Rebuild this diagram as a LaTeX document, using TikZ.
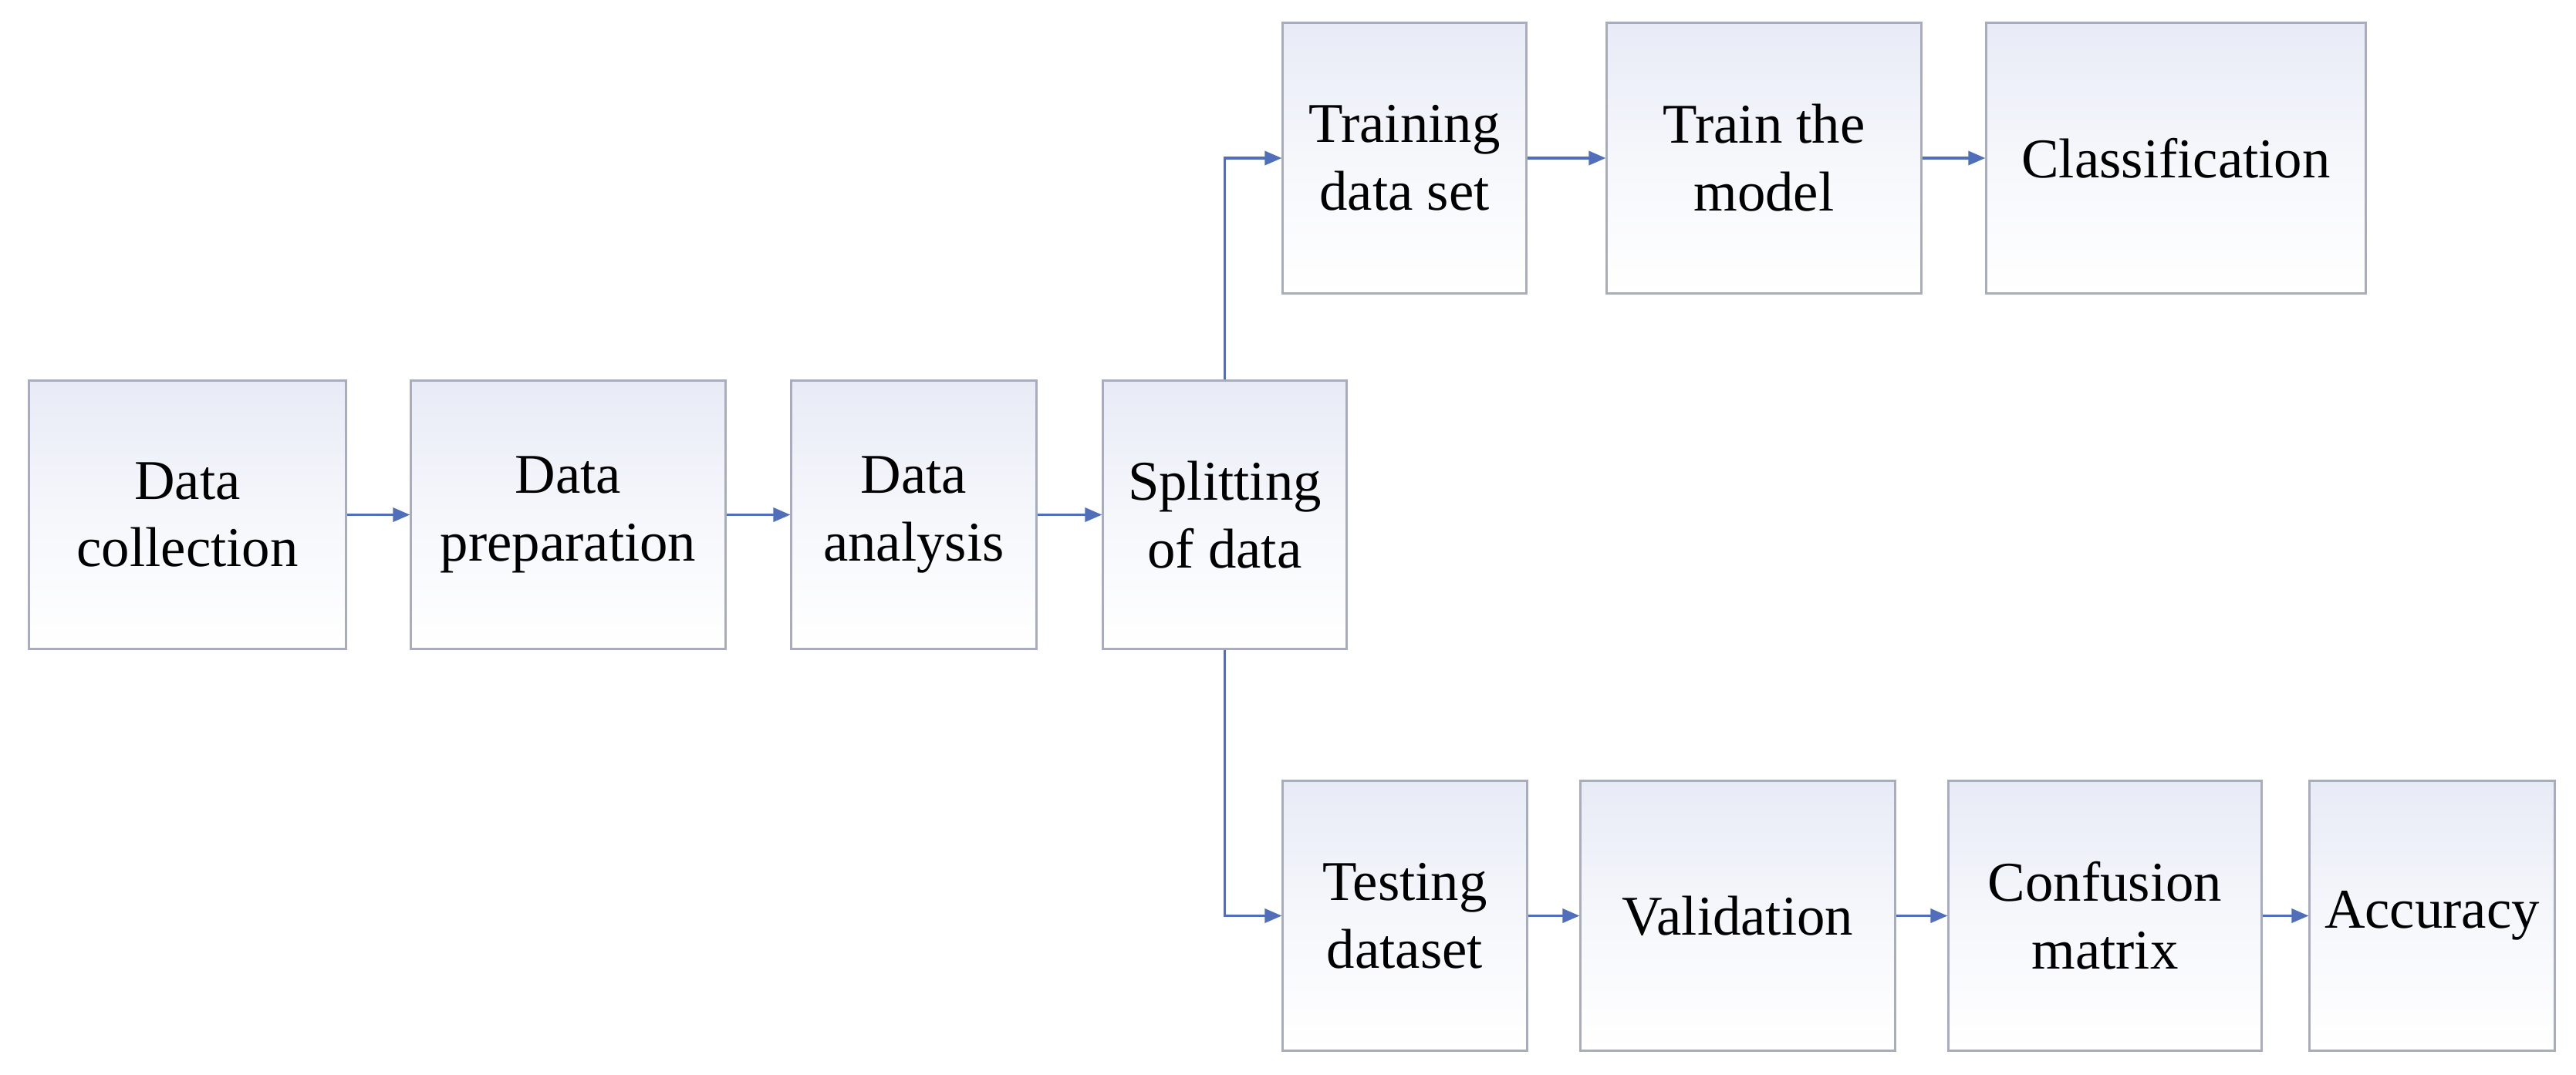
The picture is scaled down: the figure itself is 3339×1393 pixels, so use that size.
\documentclass[tikz,border=0pt]{standalone}
\usepackage{fontspec}
\setmainfont{Liberation Serif}
\usetikzlibrary{arrows.meta}
\definecolor{boxline}{RGB}{168,172,188}
\definecolor{boxtop}{RGB}{232,235,246}
\definecolor{arrowc}{RGB}{80,110,185}
\begin{document}
\begin{tikzpicture}[x=0.01cm,y=-0.01cm,
  box/.style={draw=boxline, line width=0.03cm, top color=boxtop, bottom color=white,
    middle color=white!60!boxtop, inner sep=0pt, align=center,
    font=\fontsize{20.7}{25}\selectfont},
  conn/.style={draw=arrowc, line width=0.035cm, -{Triangle[length=0.22cm,width=0.18cm]}}]
\useasboundingbox (0,0) rectangle (3339,1393);
% middle row
\node[box, minimum width=4.10cm, minimum height=3.48cm] (dc) at (243,667.5) {Data\\collection};
\node[box, minimum width=4.07cm, minimum height=3.48cm] (dp) at (736.5,667.5) {Data\\preparation};
\node[box, minimum width=3.17cm, minimum height=3.48cm] (da) at (1184.5,667.5) {Data\\analysis};
\node[box, minimum width=3.15cm, minimum height=3.48cm] (sp) at (1587.5,667.5) {Splitting\\of data};
% top row
\node[box, minimum width=3.15cm, minimum height=3.50cm] (td) at (1820.5,205) {Training\\data set};
\node[box, minimum width=4.07cm, minimum height=3.50cm] (tm) at (2286.5,205) {Train the\\model};
\node[box, minimum width=4.91cm, minimum height=3.50cm] (cl) at (2820.5,205) {Classification};
% bottom row
\node[box, minimum width=3.16cm, minimum height=3.49cm] (ts) at (1821,1187.5) {Testing\\dataset};
\node[box, minimum width=4.07cm, minimum height=3.49cm] (va) at (2252.5,1187.5) {Validation};
\node[box, minimum width=4.05cm, minimum height=3.49cm] (cm) at (2728.5,1187.5) {Confusion\\matrix};
\node[box, minimum width=3.17cm, minimum height=3.49cm] (ac) at (3152.5,1187.5) {Accuracy};
% connectors
\draw[conn] (dc.east) -- (dp.west);
\draw[conn] (dp.east) -- (da.west);
\draw[conn] (da.east) -- (sp.west);
\draw[conn] (sp.north) |- (td.west);
\draw[conn] (sp.south) |- (ts.west);
\draw[conn] (td.east) -- (tm.west);
\draw[conn] (tm.east) -- (cl.west);
\draw[conn] (ts.east) -- (va.west);
\draw[conn] (va.east) -- (cm.west);
\draw[conn] (cm.east) -- (ac.west);
\end{tikzpicture}
\end{document}
